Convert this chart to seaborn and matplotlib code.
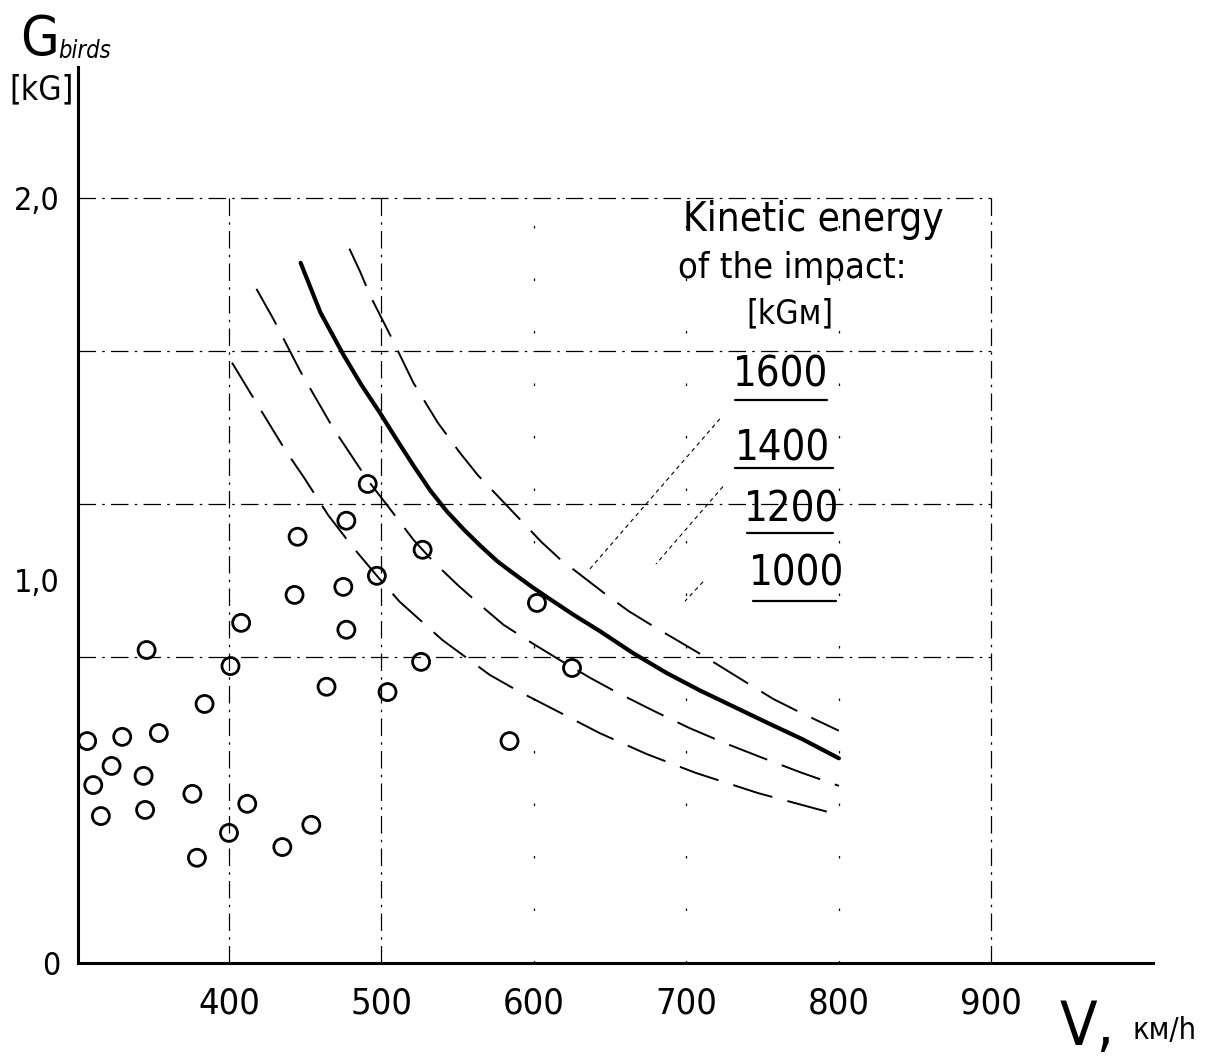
import matplotlib
matplotlib.use('Agg')
import matplotlib.pyplot as plt
import seaborn as sns
import pandas as pd

# bird strikes: speed [km/h] vs bird weight [kG]
v_birds = [307, 311, 316, 323, 330, 344, 345, 346, 354, 376, 379, 384, 401, 400, 408,
           412, 435, 443, 445, 454, 464, 475, 477, 477, 491, 497, 504, 527, 526, 584,
           602, 625]
g_birds = [0.58, 0.465, 0.384, 0.515, 0.591, 0.489, 0.40, 0.818, 0.601, 0.442, 0.275,
           0.677, 0.776, 0.34, 0.889, 0.416, 0.303, 0.962, 1.114, 0.361, 0.722, 0.983,
           0.871, 1.156, 1.252, 1.012, 0.708, 1.08, 0.787, 0.58, 0.941, 0.771]

# constant kinetic energy curves
v_1000 = [402, 418, 437, 449, 465, 481, 497, 512, 540, 571, 590, 611, 643, 674, 706,
          747, 800]
g_1000 = [1.569, 1.464, 1.340, 1.270, 1.171, 1.088, 1.012, 0.944, 0.844, 0.753, 0.710,
          0.667, 0.601, 0.546, 0.497, 0.444, 0.387]
v_1200 = [418, 429, 447, 468, 491, 505, 521, 535, 550, 565, 580, 600, 619, 637, 655,
          678, 702, 725, 750, 775, 800]
g_1200 = [1.762, 1.684, 1.545, 1.400, 1.262, 1.190, 1.106, 1.045, 0.988, 0.935, 0.884,
          0.833, 0.787, 0.745, 0.706, 0.660, 0.614, 0.575, 0.536, 0.498, 0.463]
v_1400 = [447, 460, 475, 487, 499, 510, 521, 532, 543, 554, 565, 576, 586, 598, 609,
          626, 643, 665, 687, 709, 731, 753, 776, 800]
g_1400 = [1.830, 1.700, 1.590, 1.510, 1.438, 1.368, 1.300, 1.235, 1.180, 1.133, 1.090,
          1.050, 1.020, 0.985, 0.955, 0.910, 0.868, 0.810, 0.758, 0.712, 0.670, 0.628,
          0.585, 0.535]
v_1600 = [479, 486, 493, 506, 521, 537, 551, 563, 590, 605, 617, 645, 662, 680, 709,
          741, 757, 774, 800]
g_1600 = [1.867, 1.807, 1.741, 1.639, 1.516, 1.412, 1.336, 1.276, 1.163, 1.100, 1.056,
          0.970, 0.920, 0.876, 0.808, 0.729, 0.690, 0.656, 0.607]

energy_labels = ['1600', '1400', '1200', '1000']
x_ticks = [400, 500, 600, 700, 800, 900]
y_ticks = [0, 1.0, 2.0]
y_tick_labels = ['0', '1,0', '2,0']
h_grid = [0.8, 1.2, 1.6, 2.0]

sns.set_style('white', {'text.color': 'black', 'axes.labelcolor': 'black',
                        'xtick.color': 'black', 'ytick.color': 'black'})
plt.rcParams['font.family'] = ['DejaVu Sans']
plt.rcParams['font.stretch'] = 'condensed'

fig = plt.figure(figsize=(12.17, 10.56), dpi=100)
ax = fig.add_axes([0.0641, 0.0881, 0.8833, 0.8485])

# grid, drawn only inside the 300..900 x 0..2.0 frame
dashdot = (0, (14, 5, 2, 5))
ax.hlines(h_grid, 301, 900, colors='black', linestyles=[dashdot], lw=0.9)
ax.vlines([400, 500, 900], 0, 2.0, colors='black', linestyles=[dashdot], lw=0.9)
ax.vlines([600, 700, 800], 0, 2.0, colors='black', linestyles=[(0, (2, 40))], lw=0.9)

curves = pd.DataFrame({
    'V': v_1000 + v_1200 + v_1400 + v_1600,
    'G': g_1000 + g_1200 + g_1400 + g_1600,
    'E': ['1000'] * len(v_1000) + ['1200'] * len(v_1200)
         + ['1400'] * len(v_1400) + ['1600'] * len(v_1600),
})
for e in ['1000', '1200', '1600']:
    sub = curves[curves['E'] == e]
    sns.lineplot(data=sub, x='V', y='G', ax=ax, color='black', lw=1.4,
                 linestyle=(0, (21, 8)), sort=False, estimator=None)
sub = curves[curves['E'] == '1400']
sns.lineplot(data=sub, x='V', y='G', ax=ax, color='black', lw=3.0,
             sort=False, estimator=None, solid_capstyle='round', solid_joinstyle='round')

sns.scatterplot(x=v_birds, y=g_birds, ax=ax, marker='o', s=150,
                facecolor='none', edgecolor='black', linewidth=2.0, zorder=5)

ax.set_xlim(301, 1006)
ax.set_ylim(0, 2.342)
ax.set_xticks(x_ticks)
ax.set_yticks(y_ticks)
ax.set_yticklabels(y_tick_labels)
ax.tick_params(axis='x', direction='out', length=7, width=2, pad=10, labelsize=26)
ax.tick_params(axis='y', direction='out', length=7, width=2, pad=6, labelsize=23)
ax.set_xlabel('')
ax.set_ylabel('')
for side in ['top', 'right']:
    ax.spines[side].set_visible(False)
for side in ['left', 'bottom']:
    ax.spines[side].set_linewidth(2.2)
    ax.spines[side].set_color('black')

# legend block for the energy curves
ax.text(697.7, 1.943, 'Kinetic energy', fontsize=29, ha='left', va='center')
ax.text(694.4, 1.817, 'of the impact:', fontsize=26, ha='left', va='center')
ax.text(768, 1.697, '[kGм]', fontsize=24, ha='center', va='center')
label_pos = [(762, 1.537), (763.3, 1.346), (769.2, 1.184), (772.5, 1.017)]
underlines = [(732, 792, 1.472), (732, 796, 1.294), (740, 796, 1.124), (744, 798, 0.946)]
for lab, (x, y), (x0, x1, yu) in zip(energy_labels, label_pos, underlines):
    ax.text(x, y, lab, fontsize=30, ha='center', va='center')
    ax.plot([x0, x1], [yu, yu], color='black', lw=1.6)

# leader lines from the labels to the curves
leaders = [((723, 1.427), (635, 1.022)),
           ((725, 1.250), (679, 1.038)),
           ((712, 1.001), (698, 0.941))]
for start, end in leaders:
    ax.annotate('', xy=end, xytext=start,
                arrowprops=dict(arrowstyle='-', color='black', lw=0.8, linestyle=(0, (3, 4))))

# axis titles
fig.text(20 / 1217, 1 - 55 / 1056, 'G', fontsize=40, ha='left', va='baseline')
fig.text(58 / 1217, 1 - 58 / 1056, 'birds', fontsize=17, ha='left', va='baseline',
         style='italic')
fig.text(42 / 1217, 1 - 90 / 1056, '[kG]', fontsize=24, ha='center', va='center')
fig.text(1060 / 1217, 1 - 1045 / 1056, 'V,', fontsize=44, ha='left', va='baseline')
fig.text(1165 / 1217, 1 - 1030 / 1056, 'км/h', fontsize=22, ha='center', va='center')

plt.savefig('out.png', dpi=100)
plt.close()
